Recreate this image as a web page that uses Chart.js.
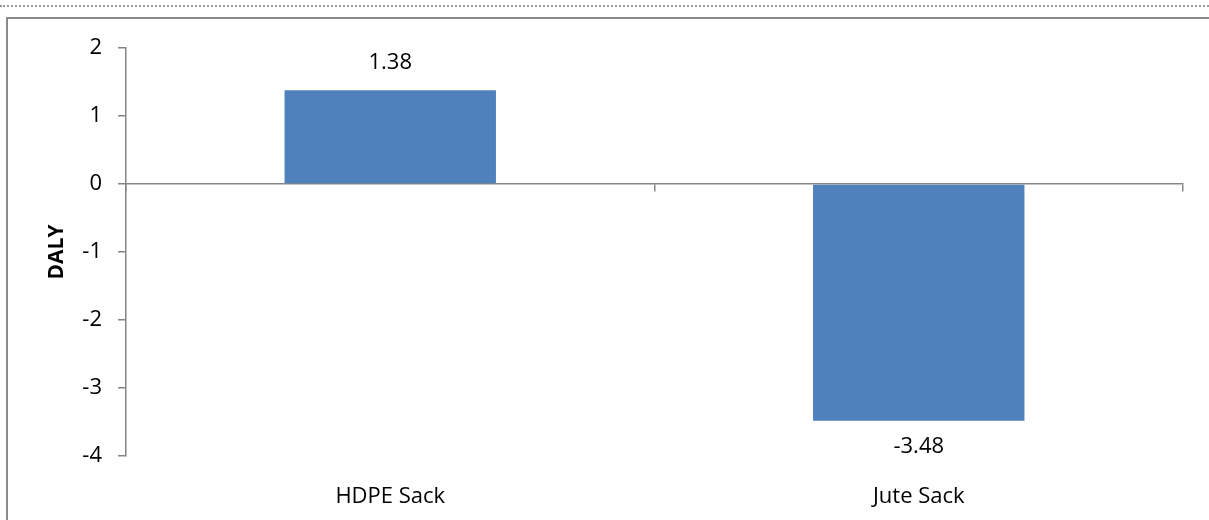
<!DOCTYPE html>
<html>
<head>
<meta charset="utf-8">
<script src="https://cdn.jsdelivr.net/npm/chart.js@4"></script>
<style>
  html, body { margin: 0; padding: 0; background: #fff; overflow: hidden; }
  #dots { position: absolute; left: 0; top: 5px; width: 1209px; border-top: 2px dotted #9a9a9a; }
  #frame { position: absolute; left: 6px; top: 17px; width: 1203px; height: 503px; border-left: 2px solid #8a8a8a; border-top: 2px solid #8a8a8a; box-sizing: border-box; }
  #chart { position: absolute; left: 0; top: 0; }
</style>
</head>
<body>
<div id="dots"></div>
<div id="frame"></div>
<canvas id="chart" width="1209" height="520"></canvas>
<script>
const categories = ['HDPE Sack', 'Jute Sack'];
const dalyValues = [1.38, -3.48];
const valueLabels = ['1.38', '-3.48'];

const axisGray = '#868686';
const fontFamily = '"Open Sans", "Noto Sans", sans-serif';

// draws the value text above/below each bar
const barValueLabels = {
    id: 'barValueLabels',
    afterDatasetsDraw(chart) {
        const ctx = chart.ctx;
        const meta = chart.getDatasetMeta(0);
        ctx.save();
        ctx.font = '22px ' + fontFamily;
        ctx.fillStyle = '#000';
        ctx.textAlign = 'center';
        ctx.textBaseline = 'middle';
        meta.data.forEach((bar, i) => {
            const v = dalyValues[i];
            const y = v >= 0 ? bar.y - 27 : bar.y + 26;
            ctx.fillText(valueLabels[i], bar.x, y);
        });
        ctx.restore();
    }
};

new Chart(document.getElementById('chart').getContext('2d'), {
    type: 'bar',
    data: {
        labels: categories,
        datasets: [{
            label: 'DALY',
            data: dalyValues,
            backgroundColor: '#4F81BD',
            borderWidth: 0,
            categoryPercentage: 1,
            barPercentage: 0.4
        }]
    },
    options: {
        responsive: false,
        animation: false,
        devicePixelRatio: 1,
        layout: { padding: { left: 0, right: 26, top: 48, bottom: 0 } },
        plugins: { legend: { display: false }, tooltip: { enabled: false } },
        scales: {
            x: {
                position: 'bottom',
                grid: { display: false },
                border: { display: false },
                ticks: { color: '#000', font: { family: fontFamily, size: 22 }, padding: 20 },
                afterFit: scale => { scale.height = 64; }
            },
            x2: {
                type: 'category',
                position: { y: 0 },
                offset: true,
                grid: { offset: true, drawOnChartArea: false, tickLength: 7, color: axisGray, lineWidth: 1.5 },
                border: { color: axisGray, width: 1.5 },
                ticks: { display: false }
            },
            y: {
                min: -4,
                max: 2,
                ticks: { stepSize: 1, color: '#000', font: { family: fontFamily, size: 22 }, padding: 16 },
                grid: { drawOnChartArea: false, tickLength: 8, color: axisGray, lineWidth: 1.5 },
                border: { color: axisGray, width: 1.5 },
                title: {
                    display: true,
                    text: 'DALY',
                    color: '#000',
                    font: { family: fontFamily, size: 21, weight: 'bold' },
                    padding: { top: 44, bottom: 0 }
                },
                afterFit: scale => { scale.width = 126; }
            }
        }
    },
    plugins: [barValueLabels]
});
</script>
</body>
</html>
